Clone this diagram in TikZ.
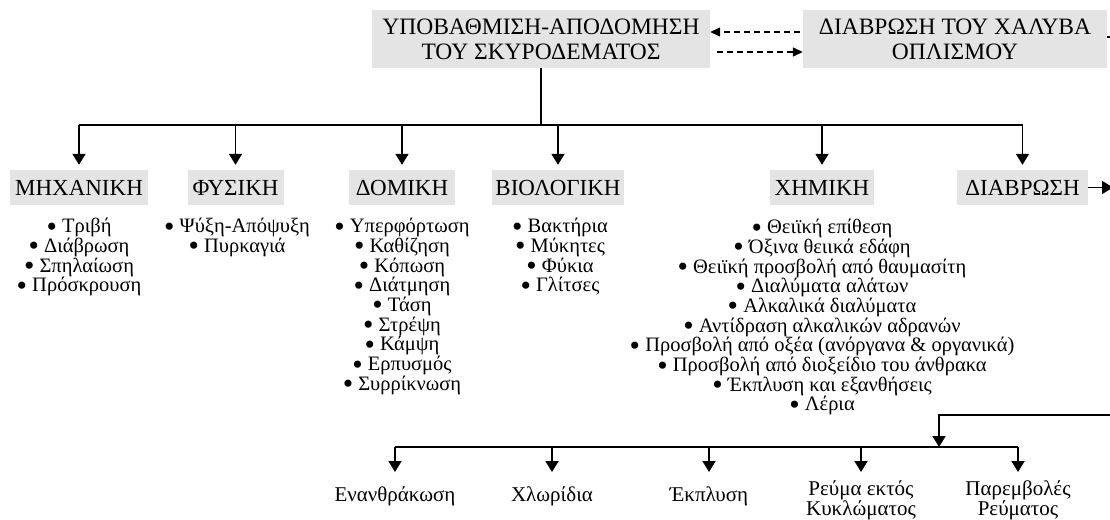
\documentclass[tikz,border=0pt]{standalone}
\usepackage{fontspec}
\setmainfont{Liberation Serif}
\usetikzlibrary{arrows.meta}
\definecolor{boxgray}{RGB}{228,228,228}
% enlarged list bullet, lowered to mid x-height, not affecting line spacing
\newcommand\listdot{\smash{\raisebox{-0.17em}{\scalebox{1.45}{•}}}}

\begin{document}
\begin{tikzpicture}[x=1pt,y=-1pt,
  headbox/.style={fill=boxgray, inner sep=0pt, align=center,
    font=\fontsize{23.5}{25}\selectfont},
  catbox/.style={fill=boxgray, inner sep=0pt, minimum height=35pt,
    font=\fontsize{23}{25}\selectfont},
  itemlist/.style={anchor=north, inner sep=0pt, align=center,
    font=\fontsize{20.5}{19.7}\selectfont},
  leaf/.style={inner sep=0pt, align=center,
    font=\fontsize{21}{20}\selectfont},
  wire/.style={line width=1.8pt},
  arr/.style={wire, -{Triangle[length=11pt,width=13pt]}},
  darr/.style={line width=1.4pt, dash pattern=on 6pt off 4pt,
    -{Triangle[length=10pt,width=9pt]}},
]
\useasboundingbox (0,0) rectangle (1110,519);

% top row
\node[headbox, minimum width=338pt, minimum height=58pt] (top) at (541,39)
  {ΥΠΟΒΑΘΜΙΣΗ-ΑΠΟΔΟΜΗΣΗ\\ΤΟΥ ΣΚΥΡΟΔΕΜΑΤΟΣ};
\node[headbox, minimum width=304pt, minimum height=58pt] (steel) at (955,39)
  {ΔΙΑΒΡΩΣΗ ΤΟΥ ΧΑΛΥΒΑ\\ΟΠΛΙΣΜΟΥ};

\draw[darr, shorten <=3pt] ([yshift=7pt]steel.west) -- ([yshift=7pt]top.east);
\draw[darr, shorten <=7pt] ([yshift=-13pt]top.east) -- ([yshift=-13pt]steel.west);
\coordinate (steelout) at (1114,37);
\draw[wire] (steel.east |- steelout) -- (steelout);

% categories
\node[catbox, minimum width=138pt] (mech) at (79,187.5) {ΜΗΧΑΝΙΚΗ};
\node[catbox, minimum width=96pt]  (phys) at (235.5,187.5) {ΦΥΣΙΚΗ};
\node[catbox, minimum width=106pt] (dom)  at (402,187.5) {ΔΟΜΙΚΗ};
\node[catbox, minimum width=132pt] (bio)  at (558,187.5) {ΒΙΟΛΟΓΙΚΗ};
\node[catbox, minimum width=104pt] (chem) at (822,187.5) {ΧΗΜΙΚΗ};
\node[catbox, minimum width=131pt] (diab) at (1022.5,187.5) {ΔΙΑΒΡΩΣΗ};

\draw[wire] (top.south) -- ++(0,57) coordinate (hub);
\draw[wire] (mech.north |- hub) -- (diab.north |- hub);
\foreach \c in {mech,phys,dom,bio,chem,diab}
  \draw[arr, shorten >=5pt] (\c.north |- hub) -- (\c.north);

\coordinate (diabout) at (1113,187.5);
\draw[arr] (diab.east) -- (diabout);

% item lists
\node[itemlist] (mechlist) at (79,218)
  {\listdot{} Τριβή\\\listdot{} Διάβρωση\\\listdot{} Σπηλαίωση\\\listdot{} Πρόσκρουση};
\node[itemlist] (physlist) at (237,218)
  {\listdot{} Ψύξη-Απόψυξη\\\listdot{} Πυρκαγιά};
\node[itemlist] (domlist) at (402,218)
  {\listdot{} Υπερφόρτωση\\\listdot{} Καθίζηση\\\listdot{} Κόπωση\\\listdot{} Διάτμηση\\%
   \listdot{} Τάση\\\listdot{} Στρέψη\\\listdot{} Κάμψη\\\listdot{} Ερπυσμός\\\listdot{} Συρρίκνωση};
\node[itemlist] (biolist) at (560,218)
  {\listdot{} Βακτήρια\\\listdot{} Μύκητες\\\listdot{} Φύκια\\\listdot{} Γλίτσες};
\node[itemlist] (chemlist) at (822,219)
  {\listdot{} Θειϊκή επίθεση\\\listdot{} Όξινα θειικά εδάφη\\%
   \listdot{} Θειϊκή προσβολή από θαυμασίτη\\\listdot{} Διαλύματα αλάτων\\%
   \listdot{} Αλκαλικά διαλύματα\\\listdot{} Αντίδραση αλκαλικών αδρανών\\%
   \listdot{} Προσβολή από οξέα (ανόργανα \& οργανικά)\\%
   \listdot{} Προσβολή από διοξείδιο του άνθρακα\\%
   \listdot{} Έκπλυση και εξανθήσεις\\\listdot{} Λέρια};

% corrosion types
\node[leaf] (carb)  at (395,496) {Ενανθράκωση};
\node[leaf] (chlor) at (552,496) {Χλωρίδια};
\node[leaf] (leach) at (709,496) {Έκπλυση};
\node[leaf] (stray) at (861,500) {Ρεύμα εκτός\\Κυκλώματος};
\node[leaf] (inter) at (1018,500) {Παρεμβολές\\Ρεύματος};

\coordinate (feed) at (1114,415);
\coordinate (join) at (939,447);
\draw[arr] (feed) -| (join);
\draw[wire] (carb.north |- join) -- (inter.north |- join);
\foreach \c in {carb,chlor,leach,stray,inter}
  \draw[arr] (\c.north |- join) -- (\c.north |- 0,472);
\end{tikzpicture}
\end{document}
